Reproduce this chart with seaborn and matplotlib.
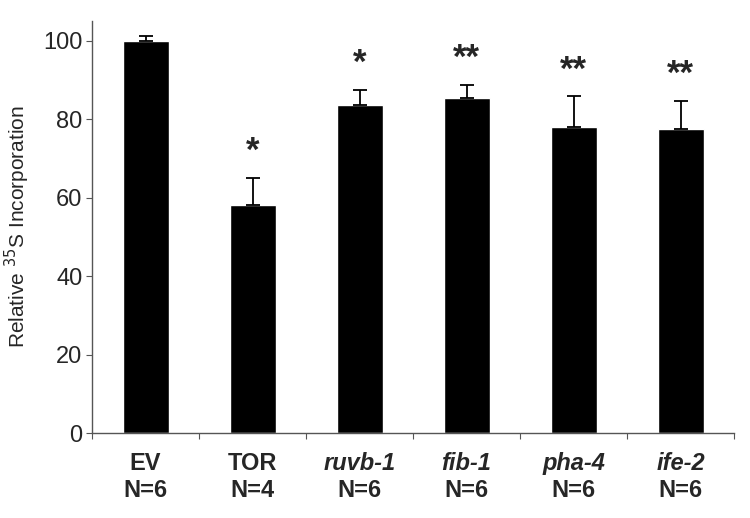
import numpy as np
import pandas as pd
import seaborn as sns
import matplotlib.pyplot as plt
import matplotlib.transforms as mtransforms

# values
groups = ['EV', 'TOR', 'ruvb-1', 'fib-1', 'pha-4', 'ife-2']
n_labels = ['N=6', 'N=4', 'N=6', 'N=6', 'N=6', 'N=6']
italic = [False, False, True, True, True, True]
means = [100.0, 58.2, 83.7, 85.3, 78.1, 77.4]
errs = [1.1, 6.8, 3.7, 3.4, 7.7, 7.3]
stars = ['', '*', '*', '**', '**', '**']

sns.set_style('white')
plt.rcParams['font.family'] = ['Liberation Sans', 'DejaVu Sans']

data = pd.DataFrame({'group': groups, 'value': means})

fig = plt.figure(figsize=(7.5, 5.18), dpi=100)
ax = fig.add_axes([0.1227, 0.164, 0.856, 0.7955])

sns.barplot(data=data, x='group', y='value', color='black', width=0.43,
            saturation=1, errorbar=None, ax=ax)
x = np.arange(len(groups))
ax.errorbar(x, means, yerr=[np.zeros(len(errs)), errs], fmt='none',
            ecolor='black', elinewidth=1.3, capsize=5, capthick=1.3, zorder=1)

# significance stars
for i in range(len(groups)):
    if stars[i]:
        ax.text(x[i], means[i] + errs[i] + 2.5, stars[i], ha='center', va='bottom',
                fontsize=25, fontweight='bold')

ax.set_xlim(-0.5, len(groups) - 0.5)
ax.set_ylim(0, 105)
ax.set_yticks([0, 20, 40, 60, 80, 100])
ax.tick_params(axis='y', labelsize=17, length=4, direction='out', color='#555555', left=True, pad=3)
ax.set_xticks(np.arange(len(groups) + 1) - 0.5)
ax.set_xticklabels([])
ax.tick_params(axis='x', length=4, direction='out', color='#555555', bottom=True)
ax.set_xlabel('')
ax.set_ylabel('Relative $^{35}$S Incorporation', fontsize=15, labelpad=8)

for s in ['top', 'right']:
    ax.spines[s].set_visible(False)
for s in ['left', 'bottom']:
    ax.spines[s].set_color('#555555')
    ax.spines[s].set_linewidth(1.0)

# two-line category labels below the axis
trans = mtransforms.blended_transform_factory(ax.transData, ax.transAxes)
for i in range(len(groups)):
    ax.text(x[i], -0.075, groups[i], transform=trans, ha='center', va='center',
            fontsize=17, fontweight='bold', style='italic' if italic[i] else 'normal')
    ax.text(x[i], -0.14, n_labels[i], transform=trans, ha='center', va='center',
            fontsize=17, fontweight='bold')

fig.savefig('out.png', dpi=100)
